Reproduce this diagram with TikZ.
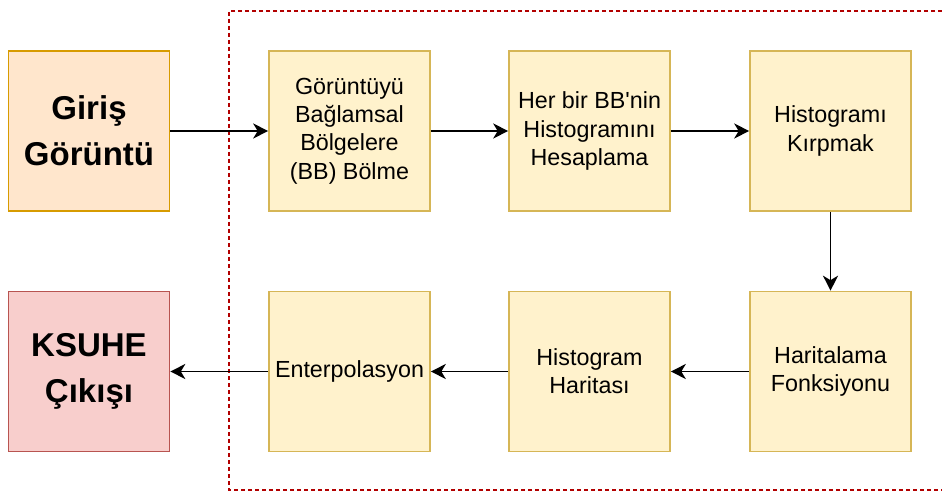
\documentclass[tikz,border=0pt]{standalone}
\usepackage{fontspec}
\setmainfont{Liberation Sans}[Ligatures=TeXOff]
\usetikzlibrary{arrows.meta}

\definecolor{inFill}{HTML}{FFE6CC}
\definecolor{inLine}{HTML}{D79B00}
\definecolor{stFill}{HTML}{FFF2CC}
\definecolor{stLine}{HTML}{D6B656}
\definecolor{outFill}{HTML}{F8CECC}
\definecolor{outLine}{HTML}{B85450}
\definecolor{frameRed}{HTML}{B20000}

\tikzset{
  blk/.style={rectangle, minimum width=161pt, minimum height=160pt,
    inner sep=0pt, line width=1.6pt, align=center, text=black},
  stepbox/.style={blk, fill=stFill, draw=stLine,
    font=\fontsize{23.3}{28.3}\selectfont},
  inbox/.style={blk, fill=inFill, draw=inLine,
    font=\fontsize{33}{46}\selectfont\bfseries},
  outbox/.style={blk, fill=outFill, draw=outLine,
    font=\fontsize{33}{46}\selectfont\bfseries},
  flow/.style={line width=1.8pt, draw=black,
    -{Stealth[length=15pt, width=15pt, inset=4.5pt]}},
  frame/.style={draw=frameRed, line width=1.5pt, dash pattern=on 4pt off 3pt}
}

\begin{document}
\begin{tikzpicture}[x=1pt, y=-1pt]
  \useasboundingbox (0,0) rectangle (942,492);

  % dashed frame around the processing stages
  \coordinate (fTR) at (942,11);
  \coordinate (fTL) at (229,11);
  \coordinate (fBL) at (229,490);
  \coordinate (fBR) at (942,490);
  \draw[frame] (fTR) -- (fTL) -- (fBL) -- (fBR);

  % input and output
  \node[inbox] (in) at (89,131) {Giriş\\Görüntü};
  \node[outbox] (out) at (89,371.5) {KSUHE\\Çıkışı};

  % top row
  \node[stepbox] (s1) at (349.5,131) {Görüntüyü\\Bağlamsal\\Bölgelere\\(BB) Bölme};
  \node[stepbox] (s2) at (589.5,131) {Her bir BB'nin\\Histogramını\\Hesaplama};
  \node[stepbox] (s3) at (830.5,131) {Histogramı\\Kırpmak};

  % bottom row
  \node[stepbox] (s4) at (830.5,371.5) {Haritalama\\Fonksiyonu};
  \node[stepbox] (s5) at (589.5,371.5) {Histogram\\Haritası};
  \node[stepbox] (s6) at (349.5,371.5) {Enterpolasyon};

  % connectors
  \draw[flow] (in) -- (s1);
  \draw[flow] (s1) -- (s2);
  \draw[flow] (s2) -- (s3);
  \draw[flow] (s3) -- (s4);
  \draw[flow] (s4) -- (s5);
  \draw[flow] (s5) -- (s6);
  \draw[flow] (s6) -- (out);
\end{tikzpicture}
\end{document}
